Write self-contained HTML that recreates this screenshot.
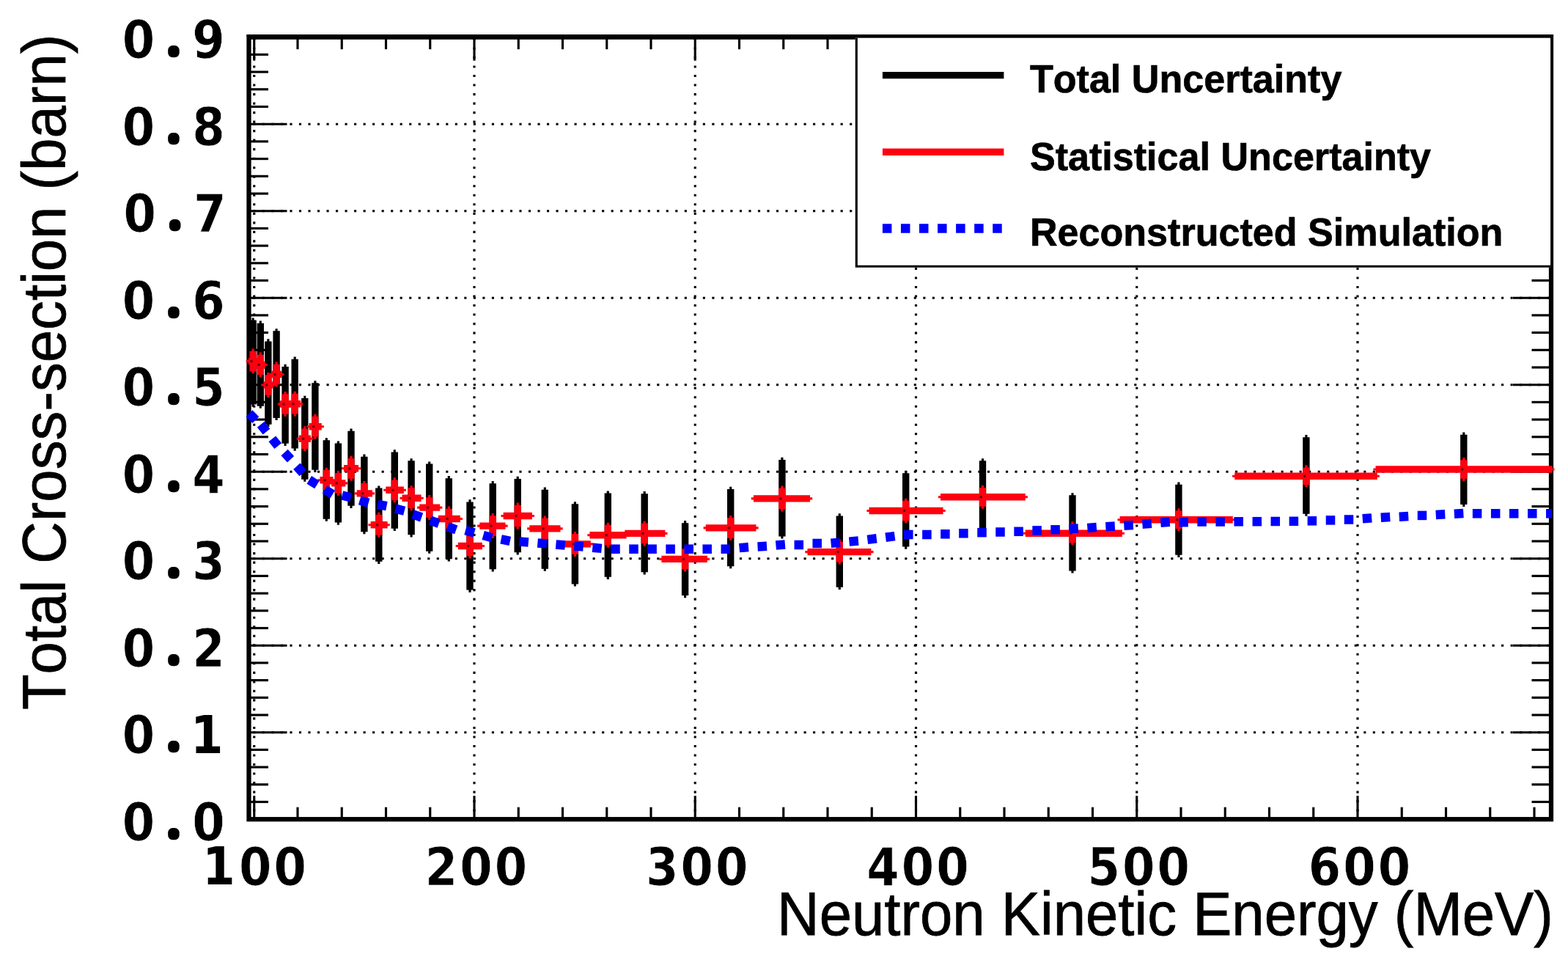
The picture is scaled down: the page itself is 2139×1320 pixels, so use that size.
<!DOCTYPE html>
<html lang="en"><head><meta charset="utf-8"><title>Total Cross-section vs Neutron Kinetic Energy</title>
<style>html,body{margin:0;padding:0;background:#fff;overflow:hidden;}svg{display:block;filter:blur(0.6px);}.tk{font-family:"DejaVu Sans Condensed","DejaVu Sans","Liberation Sans",sans-serif;font-weight:bold;font-stretch:condensed;fill:#000;}.ti{font-family:"Liberation Sans",sans-serif;fill:#000;font-kerning:none;}.lg{font-family:"Liberation Sans",sans-serif;font-weight:bold;fill:#000;font-kerning:none;}</style></head><body>
<svg width="2139" height="1320" viewBox="0 0 2139 1320">
<rect x="0" y="0" width="2139" height="1320" fill="#fff"/>
<g stroke="#000" stroke-width="3.13" stroke-dasharray="3.13 9.39" fill="none">
<line x1="339.50" y1="998.70" x2="2116.00" y2="998.70" stroke-dashoffset="6.69"/>
<line x1="339.50" y1="880.20" x2="2116.00" y2="880.20" stroke-dashoffset="6.69"/>
<line x1="339.50" y1="761.70" x2="2116.00" y2="761.70" stroke-dashoffset="6.69"/>
<line x1="339.50" y1="643.20" x2="2116.00" y2="643.20" stroke-dashoffset="6.69"/>
<line x1="339.50" y1="524.70" x2="2116.00" y2="524.70" stroke-dashoffset="6.69"/>
<line x1="339.50" y1="406.20" x2="2116.00" y2="406.20" stroke-dashoffset="6.69"/>
<line x1="339.50" y1="287.70" x2="2116.00" y2="287.70" stroke-dashoffset="6.69"/>
<line x1="339.50" y1="169.20" x2="2116.00" y2="169.20" stroke-dashoffset="6.69"/>
<line x1="346.75" y1="50.70" x2="346.75" y2="1117.20" stroke-dashoffset="11.34"/>
<line x1="647.00" y1="50.70" x2="647.00" y2="1117.20" stroke-dashoffset="11.34"/>
<line x1="948.25" y1="50.70" x2="948.25" y2="1117.20" stroke-dashoffset="11.34"/>
<line x1="1249.50" y1="50.70" x2="1249.50" y2="1117.20" stroke-dashoffset="11.34"/>
<line x1="1550.75" y1="50.70" x2="1550.75" y2="1117.20" stroke-dashoffset="11.34"/>
<line x1="1852.00" y1="50.70" x2="1852.00" y2="1117.20" stroke-dashoffset="11.34"/>
</g>
<g stroke="#000" stroke-width="3.13" fill="none">
<line x1="346.75" y1="1117.20" x2="346.75" y2="1085.20"/>
<line x1="346.75" y1="50.70" x2="346.75" y2="82.70"/>
<line x1="406.00" y1="1117.20" x2="406.00" y2="1100.70"/>
<line x1="406.00" y1="50.70" x2="406.00" y2="67.20"/>
<line x1="466.25" y1="1117.20" x2="466.25" y2="1100.70"/>
<line x1="466.25" y1="50.70" x2="466.25" y2="67.20"/>
<line x1="526.50" y1="1117.20" x2="526.50" y2="1100.70"/>
<line x1="526.50" y1="50.70" x2="526.50" y2="67.20"/>
<line x1="586.75" y1="1117.20" x2="586.75" y2="1100.70"/>
<line x1="586.75" y1="50.70" x2="586.75" y2="67.20"/>
<line x1="647.00" y1="1117.20" x2="647.00" y2="1085.20"/>
<line x1="647.00" y1="50.70" x2="647.00" y2="82.70"/>
<line x1="707.25" y1="1117.20" x2="707.25" y2="1100.70"/>
<line x1="707.25" y1="50.70" x2="707.25" y2="67.20"/>
<line x1="767.50" y1="1117.20" x2="767.50" y2="1100.70"/>
<line x1="767.50" y1="50.70" x2="767.50" y2="67.20"/>
<line x1="827.75" y1="1117.20" x2="827.75" y2="1100.70"/>
<line x1="827.75" y1="50.70" x2="827.75" y2="67.20"/>
<line x1="888.00" y1="1117.20" x2="888.00" y2="1100.70"/>
<line x1="888.00" y1="50.70" x2="888.00" y2="67.20"/>
<line x1="948.25" y1="1117.20" x2="948.25" y2="1085.20"/>
<line x1="948.25" y1="50.70" x2="948.25" y2="82.70"/>
<line x1="1008.50" y1="1117.20" x2="1008.50" y2="1100.70"/>
<line x1="1008.50" y1="50.70" x2="1008.50" y2="67.20"/>
<line x1="1068.75" y1="1117.20" x2="1068.75" y2="1100.70"/>
<line x1="1068.75" y1="50.70" x2="1068.75" y2="67.20"/>
<line x1="1129.00" y1="1117.20" x2="1129.00" y2="1100.70"/>
<line x1="1129.00" y1="50.70" x2="1129.00" y2="67.20"/>
<line x1="1189.25" y1="1117.20" x2="1189.25" y2="1100.70"/>
<line x1="1189.25" y1="50.70" x2="1189.25" y2="67.20"/>
<line x1="1249.50" y1="1117.20" x2="1249.50" y2="1085.20"/>
<line x1="1249.50" y1="50.70" x2="1249.50" y2="82.70"/>
<line x1="1309.75" y1="1117.20" x2="1309.75" y2="1100.70"/>
<line x1="1309.75" y1="50.70" x2="1309.75" y2="67.20"/>
<line x1="1370.00" y1="1117.20" x2="1370.00" y2="1100.70"/>
<line x1="1370.00" y1="50.70" x2="1370.00" y2="67.20"/>
<line x1="1430.25" y1="1117.20" x2="1430.25" y2="1100.70"/>
<line x1="1430.25" y1="50.70" x2="1430.25" y2="67.20"/>
<line x1="1490.50" y1="1117.20" x2="1490.50" y2="1100.70"/>
<line x1="1490.50" y1="50.70" x2="1490.50" y2="67.20"/>
<line x1="1550.75" y1="1117.20" x2="1550.75" y2="1085.20"/>
<line x1="1550.75" y1="50.70" x2="1550.75" y2="82.70"/>
<line x1="1611.00" y1="1117.20" x2="1611.00" y2="1100.70"/>
<line x1="1611.00" y1="50.70" x2="1611.00" y2="67.20"/>
<line x1="1671.25" y1="1117.20" x2="1671.25" y2="1100.70"/>
<line x1="1671.25" y1="50.70" x2="1671.25" y2="67.20"/>
<line x1="1731.50" y1="1117.20" x2="1731.50" y2="1100.70"/>
<line x1="1731.50" y1="50.70" x2="1731.50" y2="67.20"/>
<line x1="1791.75" y1="1117.20" x2="1791.75" y2="1100.70"/>
<line x1="1791.75" y1="50.70" x2="1791.75" y2="67.20"/>
<line x1="1852.00" y1="1117.20" x2="1852.00" y2="1085.20"/>
<line x1="1852.00" y1="50.70" x2="1852.00" y2="82.70"/>
<line x1="1912.25" y1="1117.20" x2="1912.25" y2="1100.70"/>
<line x1="1912.25" y1="50.70" x2="1912.25" y2="67.20"/>
<line x1="1972.50" y1="1117.20" x2="1972.50" y2="1100.70"/>
<line x1="1972.50" y1="50.70" x2="1972.50" y2="67.20"/>
<line x1="2032.75" y1="1117.20" x2="2032.75" y2="1100.70"/>
<line x1="2032.75" y1="50.70" x2="2032.75" y2="67.20"/>
<line x1="2093.00" y1="1117.20" x2="2093.00" y2="1100.70"/>
<line x1="2093.00" y1="50.70" x2="2093.00" y2="67.20"/>
<line x1="339.50" y1="1117.20" x2="391.50" y2="1117.20"/>
<line x1="2116.00" y1="1117.20" x2="2064.00" y2="1117.20"/>
<line x1="339.50" y1="1093.50" x2="366.00" y2="1093.50"/>
<line x1="2116.00" y1="1093.50" x2="2089.50" y2="1093.50"/>
<line x1="339.50" y1="1069.80" x2="366.00" y2="1069.80"/>
<line x1="2116.00" y1="1069.80" x2="2089.50" y2="1069.80"/>
<line x1="339.50" y1="1046.10" x2="366.00" y2="1046.10"/>
<line x1="2116.00" y1="1046.10" x2="2089.50" y2="1046.10"/>
<line x1="339.50" y1="1022.40" x2="366.00" y2="1022.40"/>
<line x1="2116.00" y1="1022.40" x2="2089.50" y2="1022.40"/>
<line x1="339.50" y1="998.70" x2="391.50" y2="998.70"/>
<line x1="2116.00" y1="998.70" x2="2064.00" y2="998.70"/>
<line x1="339.50" y1="975.00" x2="366.00" y2="975.00"/>
<line x1="2116.00" y1="975.00" x2="2089.50" y2="975.00"/>
<line x1="339.50" y1="951.30" x2="366.00" y2="951.30"/>
<line x1="2116.00" y1="951.30" x2="2089.50" y2="951.30"/>
<line x1="339.50" y1="927.60" x2="366.00" y2="927.60"/>
<line x1="2116.00" y1="927.60" x2="2089.50" y2="927.60"/>
<line x1="339.50" y1="903.90" x2="366.00" y2="903.90"/>
<line x1="2116.00" y1="903.90" x2="2089.50" y2="903.90"/>
<line x1="339.50" y1="880.20" x2="391.50" y2="880.20"/>
<line x1="2116.00" y1="880.20" x2="2064.00" y2="880.20"/>
<line x1="339.50" y1="856.50" x2="366.00" y2="856.50"/>
<line x1="2116.00" y1="856.50" x2="2089.50" y2="856.50"/>
<line x1="339.50" y1="832.80" x2="366.00" y2="832.80"/>
<line x1="2116.00" y1="832.80" x2="2089.50" y2="832.80"/>
<line x1="339.50" y1="809.10" x2="366.00" y2="809.10"/>
<line x1="2116.00" y1="809.10" x2="2089.50" y2="809.10"/>
<line x1="339.50" y1="785.40" x2="366.00" y2="785.40"/>
<line x1="2116.00" y1="785.40" x2="2089.50" y2="785.40"/>
<line x1="339.50" y1="761.70" x2="391.50" y2="761.70"/>
<line x1="2116.00" y1="761.70" x2="2064.00" y2="761.70"/>
<line x1="339.50" y1="738.00" x2="366.00" y2="738.00"/>
<line x1="2116.00" y1="738.00" x2="2089.50" y2="738.00"/>
<line x1="339.50" y1="714.30" x2="366.00" y2="714.30"/>
<line x1="2116.00" y1="714.30" x2="2089.50" y2="714.30"/>
<line x1="339.50" y1="690.60" x2="366.00" y2="690.60"/>
<line x1="2116.00" y1="690.60" x2="2089.50" y2="690.60"/>
<line x1="339.50" y1="666.90" x2="366.00" y2="666.90"/>
<line x1="2116.00" y1="666.90" x2="2089.50" y2="666.90"/>
<line x1="339.50" y1="643.20" x2="391.50" y2="643.20"/>
<line x1="2116.00" y1="643.20" x2="2064.00" y2="643.20"/>
<line x1="339.50" y1="619.50" x2="366.00" y2="619.50"/>
<line x1="2116.00" y1="619.50" x2="2089.50" y2="619.50"/>
<line x1="339.50" y1="595.80" x2="366.00" y2="595.80"/>
<line x1="2116.00" y1="595.80" x2="2089.50" y2="595.80"/>
<line x1="339.50" y1="572.10" x2="366.00" y2="572.10"/>
<line x1="2116.00" y1="572.10" x2="2089.50" y2="572.10"/>
<line x1="339.50" y1="548.40" x2="366.00" y2="548.40"/>
<line x1="2116.00" y1="548.40" x2="2089.50" y2="548.40"/>
<line x1="339.50" y1="524.70" x2="391.50" y2="524.70"/>
<line x1="2116.00" y1="524.70" x2="2064.00" y2="524.70"/>
<line x1="339.50" y1="501.00" x2="366.00" y2="501.00"/>
<line x1="2116.00" y1="501.00" x2="2089.50" y2="501.00"/>
<line x1="339.50" y1="477.30" x2="366.00" y2="477.30"/>
<line x1="2116.00" y1="477.30" x2="2089.50" y2="477.30"/>
<line x1="339.50" y1="453.60" x2="366.00" y2="453.60"/>
<line x1="2116.00" y1="453.60" x2="2089.50" y2="453.60"/>
<line x1="339.50" y1="429.90" x2="366.00" y2="429.90"/>
<line x1="2116.00" y1="429.90" x2="2089.50" y2="429.90"/>
<line x1="339.50" y1="406.20" x2="391.50" y2="406.20"/>
<line x1="2116.00" y1="406.20" x2="2064.00" y2="406.20"/>
<line x1="339.50" y1="382.50" x2="366.00" y2="382.50"/>
<line x1="2116.00" y1="382.50" x2="2089.50" y2="382.50"/>
<line x1="339.50" y1="358.80" x2="366.00" y2="358.80"/>
<line x1="2116.00" y1="358.80" x2="2089.50" y2="358.80"/>
<line x1="339.50" y1="335.10" x2="366.00" y2="335.10"/>
<line x1="2116.00" y1="335.10" x2="2089.50" y2="335.10"/>
<line x1="339.50" y1="311.40" x2="366.00" y2="311.40"/>
<line x1="2116.00" y1="311.40" x2="2089.50" y2="311.40"/>
<line x1="339.50" y1="287.70" x2="391.50" y2="287.70"/>
<line x1="2116.00" y1="287.70" x2="2064.00" y2="287.70"/>
<line x1="339.50" y1="264.00" x2="366.00" y2="264.00"/>
<line x1="2116.00" y1="264.00" x2="2089.50" y2="264.00"/>
<line x1="339.50" y1="240.30" x2="366.00" y2="240.30"/>
<line x1="2116.00" y1="240.30" x2="2089.50" y2="240.30"/>
<line x1="339.50" y1="216.60" x2="366.00" y2="216.60"/>
<line x1="2116.00" y1="216.60" x2="2089.50" y2="216.60"/>
<line x1="339.50" y1="192.90" x2="366.00" y2="192.90"/>
<line x1="2116.00" y1="192.90" x2="2089.50" y2="192.90"/>
<line x1="339.50" y1="169.20" x2="391.50" y2="169.20"/>
<line x1="2116.00" y1="169.20" x2="2064.00" y2="169.20"/>
<line x1="339.50" y1="145.50" x2="366.00" y2="145.50"/>
<line x1="2116.00" y1="145.50" x2="2089.50" y2="145.50"/>
<line x1="339.50" y1="121.80" x2="366.00" y2="121.80"/>
<line x1="2116.00" y1="121.80" x2="2089.50" y2="121.80"/>
<line x1="339.50" y1="98.10" x2="366.00" y2="98.10"/>
<line x1="2116.00" y1="98.10" x2="2089.50" y2="98.10"/>
<line x1="339.50" y1="74.40" x2="366.00" y2="74.40"/>
<line x1="2116.00" y1="74.40" x2="2089.50" y2="74.40"/>
<line x1="339.50" y1="50.70" x2="391.50" y2="50.70"/>
<line x1="2116.00" y1="50.70" x2="2064.00" y2="50.70"/>
</g>
<rect x="339.50" y="50.70" width="1776.50" height="1066.50" fill="none" stroke="#000" stroke-width="6.26"/>
<rect x="336.37" y="47.0" width="1782.76" height="3" fill="#000"/>
<g id="total">
<path d="M340.41 436.53H343.54V433.40H346.67V436.53H349.80V551.57H346.67V554.70H343.54V551.57H340.41Z" fill="#000"/>
<path d="M350.61 440.73H353.74V437.60H356.87V440.73H360.00V553.67H356.87V556.80H353.74V553.67H350.61Z" fill="#000"/>
<path d="M361.20 465.43H364.33V462.30H367.46V465.43H370.59V578.87H367.46V582.00H364.33V578.87H361.20Z" fill="#000"/>
<path d="M372.41 451.33H375.54V448.20H378.67V451.33H381.80V569.97H378.67V573.10H375.54V569.97H372.41Z" fill="#000"/>
<path d="M384.41 499.93H387.54V496.80H390.67V499.93H393.80V604.87H390.67V608.00H387.54V604.87H384.41Z" fill="#000"/>
<path d="M397.50 489.73H400.63V486.60H403.76V489.73H406.89V611.57H403.76V614.70H400.63V611.57H397.50Z" fill="#000"/>
<path d="M411.11 542.93H414.24V539.80H417.37V542.93H420.50V653.67H417.37V656.80H414.24V653.67H411.11Z" fill="#000"/>
<path d="M425.20 522.33H428.33V519.20H431.46V522.33H434.59V640.87H431.46V644.00H428.33V640.87H425.20Z" fill="#000"/>
<path d="M440.61 600.33H443.74V597.20H446.87V600.33H450.00V707.67H446.87V710.80H443.74V707.67H440.61Z" fill="#000"/>
<path d="M456.70 604.53H459.83V601.40H462.96V604.53H466.09V712.57H462.96V715.70H459.83V712.57H456.70Z" fill="#000"/>
<path d="M474.31 587.63H477.44V584.50H480.56V587.63H483.69V689.87H480.56V693.00H477.44V689.87H474.31Z" fill="#000"/>
<path d="M492.20 622.73H495.33V619.60H498.46V622.73H501.59V725.17H498.46V728.30H495.33V725.17H492.20Z" fill="#000"/>
<path d="M512.10 665.53H515.23V662.40H518.37V665.53H521.50V765.87H518.37V769.00H515.23V765.87H512.10Z" fill="#000"/>
<path d="M533.60 616.43H536.73V613.30H539.87V616.43H543.00V720.87H539.87V724.00H536.73V720.87H533.60Z" fill="#000"/>
<path d="M556.40 628.33H559.53V625.20H562.67V628.33H565.80V729.37H562.67V732.50H559.53V729.37H556.40Z" fill="#000"/>
<path d="M581.00 632.53H584.13V629.40H587.27V632.53H590.40V751.67H587.27V754.80H584.13V751.67H581.00Z" fill="#000"/>
<path d="M607.60 652.23H610.73V649.10H613.87V652.23H617.00V762.37H613.87V765.50H610.73V762.37H607.60Z" fill="#000"/>
<path d="M636.30 684.43H639.43V681.30H642.57V684.43H645.70V804.57H642.57V807.70H639.43V804.57H636.30Z" fill="#000"/>
<path d="M667.50 659.23H670.63V656.10H673.77V659.23H676.90V776.37H673.77V779.50H670.63V776.37H667.50Z" fill="#000"/>
<path d="M701.50 652.93H704.63V649.80H707.77V652.93H710.90V753.27H707.77V756.40H704.63V753.27H701.50Z" fill="#000"/>
<path d="M738.60 667.63H741.73V664.50H744.87V667.63H748.00V775.67H744.87V778.80H741.73V775.67H738.60Z" fill="#000"/>
<path d="M779.70 687.33H782.83V684.20H785.97V687.33H789.10V796.47H785.97V799.60H782.83V796.47H779.70Z" fill="#000"/>
<path d="M824.60 672.53H827.73V669.40H830.87V672.53H834.00V786.87H830.87V790.00H827.73V786.87H824.60Z" fill="#000"/>
<path d="M874.50 673.23H877.63V670.10H880.77V673.23H883.90V780.27H880.77V783.40H877.63V780.27H874.50Z" fill="#000"/>
<path d="M929.90 713.23H933.03V710.10H936.17V713.23H939.30V812.07H936.17V815.20H933.03V812.07H929.90Z" fill="#000"/>
<path d="M992.00 666.93H995.13V663.80H998.27V666.93H1001.40V772.17H998.27V775.30H995.13V772.17H992.00Z" fill="#000"/>
<path d="M1062.21 626.93H1065.34V623.80H1068.47V626.93H1071.60V731.47H1068.47V734.60H1065.34V731.47H1062.21Z" fill="#000"/>
<path d="M1140.61 703.43H1143.73V700.30H1146.87V703.43H1149.99V800.77H1146.87V803.90H1143.73V800.77H1140.61Z" fill="#000"/>
<path d="M1231.01 645.23H1234.13V642.10H1237.27V645.23H1240.39V745.57H1237.27V748.70H1234.13V745.57H1231.01Z" fill="#000"/>
<path d="M1335.81 628.33H1338.93V625.20H1342.07V628.33H1345.19V727.27H1342.07V730.40H1338.93V727.27H1335.81Z" fill="#000"/>
<path d="M1458.31 675.33H1461.43V672.20H1464.57V675.33H1467.69V778.47H1464.57V781.60H1461.43V778.47H1458.31Z" fill="#000"/>
<path d="M1603.21 660.63H1606.34V657.50H1609.47V660.63H1612.60V756.77H1609.47V759.90H1606.34V756.77H1603.21Z" fill="#000"/>
<path d="M1777.21 596.13H1780.34V593.00H1783.47V596.13H1786.60V700.67H1783.47V703.80H1780.34V700.67H1777.21Z" fill="#000"/>
<path d="M1992.11 592.63H1995.23V589.50H1998.37V592.63H2001.49V687.97H1998.37V691.10H1995.23V687.97H1992.11Z" fill="#000"/>
</g>
<g id="stat">
<path d="M338.83 487.91V491.04H335.70V494.17H338.83V497.30H351.37V494.17H354.50V491.04H351.37V487.91Z" fill="#ff0010"/>
<path d="M340.41 478.73H343.54V475.60H346.67V478.73H349.80V506.47H346.67V509.60H343.54V506.47H340.41Z" fill="#ff0010"/>
<path d="M349.03 492.81V495.94H345.90V499.06H349.03V502.19H361.77V499.06H364.90V495.94H361.77V492.81Z" fill="#ff0010"/>
<path d="M350.61 483.63H353.74V480.50H356.87V483.63H360.00V511.37H356.87V514.50H353.74V511.37H350.61Z" fill="#ff0010"/>
<path d="M359.43 520.30V523.43H356.30V526.57H359.43V529.70H372.67V526.57H375.80V523.43H372.67V520.30Z" fill="#ff0010"/>
<path d="M361.20 511.13H364.33V508.00H367.46V511.13H370.59V538.87H367.46V542.00H364.33V538.87H361.20Z" fill="#ff0010"/>
<path d="M370.33 505.81V508.94H367.20V512.07H370.33V515.20H384.27V512.07H387.40V508.94H384.27V505.81Z" fill="#ff0010"/>
<path d="M372.41 496.63H375.54V493.50H378.67V496.63H381.80V524.37H378.67V527.50H375.54V524.37H372.41Z" fill="#ff0010"/>
<path d="M381.93 546.30V549.43H378.80V552.57H381.93V555.70H396.77V552.57H399.90V549.43H396.77V546.30Z" fill="#ff0010"/>
<path d="M384.41 537.13H387.54V534.00H390.67V537.13H393.80V564.87H390.67V568.00H387.54V564.87H384.41Z" fill="#ff0010"/>
<path d="M394.43 546.00V549.13H391.30V552.27H394.43V555.40H410.17V552.27H413.30V549.13H410.17V546.00Z" fill="#ff0010"/>
<path d="M397.50 536.83H400.63V533.70H403.76V536.83H406.89V564.57H403.76V567.70H400.63V564.57H397.50Z" fill="#ff0010"/>
<path d="M407.83 593.60V596.73H404.70V599.87H407.83V603.00H423.97V599.87H427.10V596.73H423.97V593.60Z" fill="#ff0010"/>
<path d="M411.11 584.43H414.24V581.30H417.37V584.43H420.50V612.17H417.37V615.30H414.24V612.17H411.11Z" fill="#ff0010"/>
<path d="M421.63 577.00V580.13H418.50V583.27H421.63V586.40H438.77V583.27H441.90V580.13H438.77V577.00Z" fill="#ff0010"/>
<path d="M425.20 567.83H428.33V564.70H431.46V567.83H434.59V595.57H431.46V598.70H428.33V595.57H425.20Z" fill="#ff0010"/>
<path d="M436.43 650.00V653.13H433.30V656.27H436.43V659.40H454.47V656.27H457.60V653.13H454.47V650.00Z" fill="#ff0010"/>
<path d="M440.61 640.83H443.74V637.70H446.87V640.83H450.00V668.57H446.87V671.70H443.74V668.57H440.61Z" fill="#ff0010"/>
<path d="M452.13 654.20V657.33H449.00V660.47H452.13V663.60H471.37V660.47H474.50V657.33H471.37V654.20Z" fill="#ff0010"/>
<path d="M456.70 645.03H459.83V641.90H462.96V645.03H466.09V672.77H462.96V675.90H459.83V672.77H456.70Z" fill="#ff0010"/>
<path d="M469.03 634.10V637.23H465.90V640.37H469.03V643.50H489.07V640.37H492.20V637.23H489.07V634.10Z" fill="#ff0010"/>
<path d="M474.31 624.93H477.44V621.80H480.56V624.93H483.69V652.67H480.56V655.80H477.44V652.67H474.31Z" fill="#ff0010"/>
<path d="M486.73 668.20V671.33H483.60V674.47H486.73V677.60H507.97V674.47H511.10V671.33H507.97V668.20Z" fill="#ff0010"/>
<path d="M492.20 659.03H495.33V655.90H498.46V659.03H501.59V686.77H498.46V689.90H495.33V686.77H492.20Z" fill="#ff0010"/>
<path d="M505.63 711.00V714.13H502.50V717.27H505.63V720.40H528.67V717.27H531.80V714.13H528.67V711.00Z" fill="#ff0010"/>
<path d="M512.10 701.83H515.23V698.70H518.37V701.83H521.50V729.57H518.37V732.70H515.23V729.57H512.10Z" fill="#ff0010"/>
<path d="M526.33 663.60V666.73H523.20V669.87H526.33V673.00H550.87V669.87H554.00V666.73H550.87V663.60Z" fill="#ff0010"/>
<path d="M533.60 654.43H536.73V651.30H539.87V654.43H543.00V682.17H539.87V685.30H536.73V682.17H533.60Z" fill="#ff0010"/>
<path d="M548.53 674.50V677.63H545.40V680.77H548.53V683.90H574.57V680.77H577.70V677.63H574.57V674.50Z" fill="#ff0010"/>
<path d="M556.40 665.33H559.53V662.20H562.67V665.33H565.80V693.07H562.67V696.20H559.53V693.07H556.40Z" fill="#ff0010"/>
<path d="M572.23 687.40V690.53H569.10V693.67H572.23V696.80H600.17V693.67H603.30V690.53H600.17V687.40Z" fill="#ff0010"/>
<path d="M581.00 678.23H584.13V675.10H587.27V678.23H590.40V705.97H587.27V709.10H584.13V705.97H581.00Z" fill="#ff0010"/>
<path d="M597.83 702.80V705.93H594.70V709.07H597.83V712.20H627.77V709.07H630.90V705.93H627.77V702.80Z" fill="#ff0010"/>
<path d="M607.60 693.63H610.73V690.50H613.87V693.63H617.00V721.37H613.87V724.50H610.73V721.37H607.60Z" fill="#ff0010"/>
<path d="M624.83 739.80V742.93H621.70V746.07H624.83V749.20H657.87V746.07H661.00V742.93H657.87V739.80Z" fill="#ff0010"/>
<path d="M636.30 730.63H639.43V727.50H642.57V730.63H645.70V758.37H642.57V761.50H639.43V758.37H636.30Z" fill="#ff0010"/>
<path d="M654.33 712.40V715.53H651.20V718.67H654.33V721.80H689.47V718.67H692.60V715.53H689.47V712.40Z" fill="#ff0010"/>
<path d="M667.50 703.23H670.63V700.10H673.77V703.23H676.90V730.97H673.77V734.10H670.63V730.97H667.50Z" fill="#ff0010"/>
<path d="M686.63 698.80V701.93H683.50V705.07H686.63V708.20H725.87V705.07H729.00V701.93H725.87V698.80Z" fill="#ff0010"/>
<path d="M701.50 688.63H704.63V685.50H707.77V688.63H710.90V718.37H707.77V721.50H704.63V718.37H701.50Z" fill="#ff0010"/>
<path d="M722.33 716.20V719.33H719.20V722.47H722.33V725.60H764.47V722.47H767.60V719.33H764.47V716.20Z" fill="#ff0010"/>
<path d="M738.60 706.53H741.73V703.40H744.87V706.53H748.00V735.27H744.87V738.40H741.73V735.27H738.60Z" fill="#ff0010"/>
<path d="M762.13 737.20V740.33H759.00V743.47H762.13V746.60H805.87V743.47H809.00V740.33H805.87V737.20Z" fill="#ff0010"/>
<path d="M779.70 728.03H782.83V724.90H785.97V728.03H789.10V755.77H785.97V758.90H782.83V755.77H779.70Z" fill="#ff0010"/>
<path d="M804.43 725.00V728.13H801.30V731.27H804.43V734.40H854.57V731.27H857.70V728.13H854.57V725.00Z" fill="#ff0010"/>
<path d="M824.60 715.83H827.73V712.70H830.87V715.83H834.00V743.57H830.87V746.70H827.73V743.57H824.60Z" fill="#ff0010"/>
<path d="M852.23 722.70V725.83H849.10V728.97H852.23V732.10H907.37V728.97H910.50V725.83H907.37V722.70Z" fill="#ff0010"/>
<path d="M874.50 713.53H877.63V710.40H880.77V713.53H883.90V741.27H880.77V744.40H877.63V741.27H874.50Z" fill="#ff0010"/>
<path d="M902.43 757.70V760.83H899.30V763.97H902.43V767.10H964.87V763.97H968.00V760.83H964.87V757.70Z" fill="#ff0010"/>
<path d="M929.90 748.53H933.03V745.40H936.17V748.53H939.30V776.27H936.17V779.40H933.03V776.27H929.90Z" fill="#ff0010"/>
<path d="M962.73 715.20V718.33H959.60V721.47H962.73V724.60H1031.47V721.47H1034.60V718.33H1031.47V715.20Z" fill="#ff0010"/>
<path d="M992.00 706.03H995.13V702.90H998.27V706.03H1001.40V733.77H998.27V736.90H995.13V733.77H992.00Z" fill="#ff0010"/>
<path d="M1027.93 675.20V678.33H1024.80V681.47H1027.93V684.60H1105.07V681.47H1108.20V678.33H1105.07V675.20Z" fill="#ff0010"/>
<path d="M1062.21 665.53H1065.34V662.40H1068.47V665.53H1071.60V694.27H1068.47V697.40H1065.34V694.27H1062.21Z" fill="#ff0010"/>
<path d="M1101.53 747.90V751.03H1098.40V754.17H1101.53V757.30H1188.37V754.17H1191.50V751.03H1188.37V747.90Z" fill="#ff0010"/>
<path d="M1140.61 738.73H1143.73V735.60H1146.87V738.73H1149.99V766.47H1146.87V769.60H1143.73V766.47H1140.61Z" fill="#ff0010"/>
<path d="M1185.53 691.80V694.93H1182.40V698.07H1185.53V701.20H1286.57V698.07H1289.70V694.93H1286.57V691.80Z" fill="#ff0010"/>
<path d="M1231.01 682.83H1234.13V679.70H1237.27V682.83H1240.39V710.17H1237.27V713.30H1234.13V710.17H1231.01Z" fill="#ff0010"/>
<path d="M1283.03 673.10V676.23H1279.90V679.37H1283.03V682.50H1398.77V679.37H1401.90V676.23H1398.77V673.10Z" fill="#ff0010"/>
<path d="M1335.81 664.93H1338.93V661.80H1342.07V664.93H1345.19V690.67H1342.07V693.80H1338.93V690.67H1335.81Z" fill="#ff0010"/>
<path d="M1398.73 722.60V725.73H1395.60V728.87H1398.73V732.00H1530.87V728.87H1534.00V725.73H1530.87V722.60Z" fill="#ff0010"/>
<path d="M1458.31 714.43H1461.43V711.30H1464.57V714.43H1467.69V740.17H1464.57V743.30H1461.43V740.17H1458.31Z" fill="#ff0010"/>
<path d="M1527.63 704.00V707.13H1524.50V710.27H1527.63V713.40H1681.77V710.27H1684.90V707.13H1681.77V704.00Z" fill="#ff0010"/>
<path d="M1603.21 696.33H1606.34V693.20H1609.47V696.33H1612.60V721.07H1609.47V724.20H1606.34V721.07H1603.21Z" fill="#ff0010"/>
<path d="M1684.23 644.60V647.73H1681.10V650.87H1684.23V654.00H1878.77V650.87H1881.90V647.73H1878.77V644.60Z" fill="#ff0010"/>
<path d="M1777.21 637.43H1780.34V634.30H1783.47V637.43H1786.60V661.17H1783.47V664.30H1780.34V661.17H1777.21Z" fill="#ff0010"/>
<path d="M1876.53 635.30V638.43H1873.40V641.57H1876.53V644.70H2117.37V641.57H2120.50V638.43H2117.37V635.30Z" fill="#ff0010"/>
<path d="M1992.11 627.13H1995.23V624.00H1998.37V627.13H2001.49V652.87H1998.37V656.00H1995.23V652.87H1992.11Z" fill="#ff0010"/>
</g>
<g id="mk" fill="#300">
<rect x="341.34" y="491.04" width="3.13" height="3.13" fill-opacity="0.75"/>
<rect x="351.54" y="495.94" width="3.13" height="3.13" fill-opacity="0.75"/>
<rect x="362.13" y="523.43" width="3.13" height="3.13" fill-opacity="0.75"/>
<rect x="373.34" y="508.94" width="3.13" height="3.13" fill-opacity="0.75"/>
<rect x="385.34" y="549.43" width="3.13" height="3.13" fill-opacity="0.75"/>
<rect x="398.44" y="549.13" width="3.13" height="3.13" fill-opacity="0.75"/>
<rect x="412.04" y="596.73" width="3.13" height="3.13" fill-opacity="0.75"/>
<rect x="426.13" y="580.13" width="3.13" height="3.13" fill-opacity="0.75"/>
<rect x="441.54" y="653.13" width="3.13" height="3.13" fill-opacity="0.75"/>
<rect x="457.63" y="657.33" width="3.13" height="3.13" fill-opacity="0.75"/>
<rect x="475.24" y="637.23" width="3.13" height="3.13" fill-opacity="0.75"/>
<rect x="493.13" y="671.33" width="3.13" height="3.13" fill-opacity="0.75"/>
<rect x="513.03" y="714.13" width="3.13" height="3.13" fill-opacity="0.75"/>
<rect x="534.53" y="666.73" width="3.13" height="3.13" fill-opacity="0.75"/>
<rect x="557.33" y="677.63" width="3.13" height="3.13" fill-opacity="0.75"/>
<rect x="581.93" y="690.53" width="3.13" height="3.13" fill-opacity="0.75"/>
<rect x="608.53" y="705.93" width="3.13" height="3.13" fill-opacity="0.75"/>
<rect x="637.23" y="742.93" width="3.13" height="3.13" fill-opacity="0.75"/>
<rect x="668.43" y="715.53" width="3.13" height="3.13" fill-opacity="0.75"/>
<rect x="702.43" y="701.93" width="3.13" height="3.13" fill-opacity="0.75"/>
<rect x="739.53" y="719.33" width="3.13" height="3.13" fill-opacity="0.75"/>
<rect x="780.63" y="740.33" width="3.13" height="3.13" fill-opacity="0.75"/>
<rect x="825.53" y="728.13" width="3.13" height="3.13" fill-opacity="0.75"/>
<rect x="875.43" y="725.83" width="3.13" height="3.13" fill-opacity="0.75"/>
<rect x="930.83" y="760.83" width="3.13" height="3.13" fill-opacity="0.75"/>
<rect x="992.93" y="718.33" width="3.13" height="3.13" fill-opacity="0.75"/>
<rect x="1063.13" y="678.33" width="3.13" height="3.13" fill-opacity="0.75"/>
<rect x="1141.53" y="751.03" width="3.13" height="3.13" fill-opacity="0.75"/>
<rect x="1231.93" y="694.93" width="3.13" height="3.13" fill-opacity="0.75"/>
<rect x="1336.73" y="676.23" width="3.13" height="3.13" fill-opacity="0.75"/>
<rect x="1459.23" y="725.73" width="3.13" height="3.13" fill-opacity="0.75"/>
<rect x="1604.13" y="707.13" width="3.13" height="3.13" fill-opacity="0.75"/>
<rect x="1778.13" y="647.73" width="3.13" height="3.13" fill-opacity="0.75"/>
<rect x="1993.03" y="638.43" width="3.13" height="3.13" fill-opacity="0.75"/>
</g>
<clipPath id="cl"><rect x="330" y="40" width="1787" height="1085"/></clipPath>
<g id="sim" fill="#0000ff" clip-path="url(#cl)">
<rect x="-6.26" y="-6.26" width="12.52" height="12.52" transform="translate(344.4 568.2) rotate(45.0)"/>
<rect x="-6.26" y="-6.26" width="12.52" height="12.52" transform="translate(359.6 583.8) rotate(51.1)"/>
<rect x="-6.26" y="-6.26" width="12.52" height="12.52" transform="translate(375.3 603.3) rotate(51.1)"/>
<rect x="-6.26" y="-6.26" width="12.52" height="12.52" transform="translate(392.3 621.7) rotate(47.3)"/>
<rect x="-6.26" y="-6.26" width="12.52" height="12.52" transform="translate(409.0 640.4) rotate(48.2)"/>
<rect x="-6.26" y="-6.26" width="12.52" height="12.52" transform="translate(427.1 657.7) rotate(31.5)"/>
<rect x="-6.26" y="-6.26" width="12.52" height="12.52" transform="translate(448.4 670.8) rotate(31.5)"/>
<rect x="-6.26" y="-6.26" width="12.52" height="12.52" transform="translate(472.7 677.0) rotate(14.4)"/>
<rect x="-6.26" y="-6.26" width="12.52" height="12.52" transform="translate(496.7 684.1) rotate(16.3)"/>
<rect x="-6.26" y="-6.26" width="12.52" height="12.52" transform="translate(521.3 689.0) rotate(11.3)"/>
<rect x="-6.26" y="-6.26" width="12.52" height="12.52" transform="translate(545.6 695.2) rotate(14.4)"/>
<rect x="-6.26" y="-6.26" width="12.52" height="12.52" transform="translate(569.2 703.4) rotate(19.4)"/>
<rect x="-6.26" y="-6.26" width="12.52" height="12.52" transform="translate(592.9 711.7) rotate(19.9)"/>
<rect x="-6.26" y="-6.26" width="12.52" height="12.52" transform="translate(616.4 720.2) rotate(19.9)"/>
<rect x="-6.26" y="-6.26" width="12.52" height="12.52" transform="translate(641.0 724.8) rotate(15.6)"/>
<rect x="-6.26" y="-6.26" width="12.52" height="12.52" transform="translate(665.2 731.6) rotate(15.6)"/>
<rect x="-6.26" y="-6.26" width="12.52" height="12.52" transform="translate(689.7 736.6) rotate(11.5)"/>
<rect x="-6.26" y="-6.26" width="12.52" height="12.52" transform="translate(714.6 738.9) rotate(4.7)"/>
<rect x="-6.26" y="-6.26" width="12.52" height="12.52" transform="translate(739.6 740.9) rotate(4.7)"/>
<rect x="-6.26" y="-6.26" width="12.52" height="12.52" transform="translate(764.6 743.0) rotate(4.8)"/>
<rect x="-6.26" y="-6.26" width="12.52" height="12.52" transform="translate(789.5 745.0) rotate(4.6)"/>
<rect x="-6.26" y="-6.26" width="12.52" height="12.52" transform="translate(814.5 747.3) rotate(5.3)"/>
<rect x="-6.26" y="-6.26" width="12.52" height="12.52" transform="translate(839.5 748.7) rotate(0.0)"/>
<rect x="-6.26" y="-6.26" width="12.52" height="12.52" transform="translate(864.5 748.7) rotate(0.0)"/>
<rect x="-6.26" y="-6.26" width="12.52" height="12.52" transform="translate(889.6 748.7) rotate(0.0)"/>
<rect x="-6.26" y="-6.26" width="12.52" height="12.52" transform="translate(914.6 748.7) rotate(0.0)"/>
<rect x="-6.26" y="-6.26" width="12.52" height="12.52" transform="translate(939.7 748.7) rotate(0.0)"/>
<rect x="-6.26" y="-6.26" width="12.52" height="12.52" transform="translate(964.7 748.7) rotate(0.0)"/>
<rect x="-6.26" y="-6.26" width="12.52" height="12.52" transform="translate(989.8 748.7) rotate(0.0)"/>
<rect x="-6.26" y="-6.26" width="12.52" height="12.52" transform="translate(1014.8 746.6) rotate(-4.8)"/>
<rect x="-6.26" y="-6.26" width="12.52" height="12.52" transform="translate(1039.8 745.2) rotate(-3.2)"/>
<rect x="-6.26" y="-6.26" width="12.52" height="12.52" transform="translate(1064.7 743.0) rotate(-5.0)"/>
<rect x="-6.26" y="-6.26" width="12.52" height="12.52" transform="translate(1089.8 743.0) rotate(0.0)"/>
<rect x="-6.26" y="-6.26" width="12.52" height="12.52" transform="translate(1114.7 741.0) rotate(0.0)"/>
<rect x="-6.26" y="-6.26" width="12.52" height="12.52" transform="translate(1139.8 740.2) rotate(-4.8)"/>
<rect x="-6.26" y="-6.26" width="12.52" height="12.52" transform="translate(1164.7 738.1) rotate(-4.8)"/>
<rect x="-6.26" y="-6.26" width="12.52" height="12.52" transform="translate(1189.6 735.1) rotate(-7.1)"/>
<rect x="-6.26" y="-6.26" width="12.52" height="12.52" transform="translate(1214.4 731.9) rotate(-7.3)"/>
<rect x="-6.26" y="-6.26" width="12.52" height="12.52" transform="translate(1239.3 729.0) rotate(0.0)"/>
<rect x="-6.26" y="-6.26" width="12.52" height="12.52" transform="translate(1264.4 729.0) rotate(0.0)"/>
<rect x="-6.26" y="-6.26" width="12.52" height="12.52" transform="translate(1289.4 728.3) rotate(0.0)"/>
<rect x="-6.26" y="-6.26" width="12.52" height="12.52" transform="translate(1314.4 727.3) rotate(0.0)"/>
<rect x="-6.26" y="-6.26" width="12.52" height="12.52" transform="translate(1339.5 726.2) rotate(0.0)"/>
<rect x="-6.26" y="-6.26" width="12.52" height="12.52" transform="translate(1364.5 725.5) rotate(0.0)"/>
<rect x="-6.26" y="-6.26" width="12.52" height="12.52" transform="translate(1389.6 724.8) rotate(0.0)"/>
<rect x="-6.26" y="-6.26" width="12.52" height="12.52" transform="translate(1414.6 723.4) rotate(0.0)"/>
<rect x="-6.26" y="-6.26" width="12.52" height="12.52" transform="translate(1439.6 722.3) rotate(0.0)"/>
<rect x="-6.26" y="-6.26" width="12.52" height="12.52" transform="translate(1464.6 720.9) rotate(-3.2)"/>
<rect x="-6.26" y="-6.26" width="12.52" height="12.52" transform="translate(1489.6 719.5) rotate(-3.8)"/>
<rect x="-6.26" y="-6.26" width="12.52" height="12.52" transform="translate(1514.6 717.8) rotate(-3.2)"/>
<rect x="-6.26" y="-6.26" width="12.52" height="12.52" transform="translate(1539.6 716.4) rotate(-3.2)"/>
<rect x="-6.26" y="-6.26" width="12.52" height="12.52" transform="translate(1564.6 714.3) rotate(-4.8)"/>
<rect x="-6.26" y="-6.26" width="12.52" height="12.52" transform="translate(1589.5 712.2) rotate(-4.9)"/>
<rect x="-6.26" y="-6.26" width="12.52" height="12.52" transform="translate(1614.6 712.2) rotate(0.0)"/>
<rect x="-6.26" y="-6.26" width="12.52" height="12.52" transform="translate(1639.6 711.5) rotate(0.0)"/>
<rect x="-6.26" y="-6.26" width="12.52" height="12.52" transform="translate(1664.7 711.5) rotate(0.0)"/>
<rect x="-6.26" y="-6.26" width="12.52" height="12.52" transform="translate(1689.7 711.3) rotate(0.0)"/>
<rect x="-6.26" y="-6.26" width="12.52" height="12.52" transform="translate(1714.8 711.2) rotate(0.0)"/>
<rect x="-6.26" y="-6.26" width="12.52" height="12.52" transform="translate(1739.8 711.0) rotate(0.0)"/>
<rect x="-6.26" y="-6.26" width="12.52" height="12.52" transform="translate(1764.9 710.8) rotate(0.0)"/>
<rect x="-6.26" y="-6.26" width="12.52" height="12.52" transform="translate(1789.9 710.3) rotate(0.0)"/>
<rect x="-6.26" y="-6.26" width="12.52" height="12.52" transform="translate(1815.0 709.4) rotate(0.0)"/>
<rect x="-6.26" y="-6.26" width="12.52" height="12.52" transform="translate(1840.0 708.5) rotate(0.0)"/>
<rect x="-6.26" y="-6.26" width="12.52" height="12.52" transform="translate(1865.0 706.8) rotate(-3.9)"/>
<rect x="-6.26" y="-6.26" width="12.52" height="12.52" transform="translate(1890.0 705.4) rotate(-3.2)"/>
<rect x="-6.26" y="-6.26" width="12.52" height="12.52" transform="translate(1915.0 704.3) rotate(-3.2)"/>
<rect x="-6.26" y="-6.26" width="12.52" height="12.52" transform="translate(1940.0 702.9) rotate(0.0)"/>
<rect x="-6.26" y="-6.26" width="12.52" height="12.52" transform="translate(1965.0 701.7) rotate(-3.1)"/>
<rect x="-6.26" y="-6.26" width="12.52" height="12.52" transform="translate(1990.1 700.3) rotate(-3.1)"/>
<rect x="-6.26" y="-6.26" width="12.52" height="12.52" transform="translate(2015.1 700.3) rotate(0.0)"/>
<rect x="-6.26" y="-6.26" width="12.52" height="12.52" transform="translate(2040.2 700.3) rotate(0.0)"/>
<rect x="-6.26" y="-6.26" width="12.52" height="12.52" transform="translate(2065.2 700.3) rotate(0.0)"/>
<rect x="-6.26" y="-6.26" width="12.52" height="12.52" transform="translate(2090.3 700.3) rotate(0.0)"/>
<rect x="-6.26" y="-6.26" width="12.52" height="12.52" transform="translate(2115.3 700.3) rotate(0.0)"/>
</g>
<rect x="1166.70" y="51.70" width="948.40" height="313.10" fill="#fff"/>
<path d="M1168.3 51.70V363.3H2115.10" fill="none" stroke="#000" stroke-width="3.13"/>
<line x1="1203.9" y1="102.6" x2="1369.4" y2="102.6" stroke="#000" stroke-width="9.39"/>
<line x1="1203.9" y1="207.3" x2="1369.4" y2="207.3" stroke="#ff0010" stroke-width="9.39"/>
<line x1="1203.9" y1="311.5" x2="1369.4" y2="311.5" stroke="#0000ff" stroke-width="12.52" stroke-dasharray="12.52 12.53"/>
<text class="lg" transform="translate(1404.9 125.6) scale(0.958 1)" font-size="54.4" stroke="#000" stroke-width="0.7">Total Uncertainty</text>
<text class="lg" transform="translate(1404.9 232.3) scale(0.958 1)" font-size="54.4" stroke="#000" stroke-width="0.7">Statistical Uncertainty</text>
<text class="lg" transform="translate(1404.9 334.6) scale(0.958 1)" font-size="54.4" stroke="#000" stroke-width="0.7">Reconstructed Simulation</text>
<g id="ylabels">
<text class="tk" font-size="71" y="1145.50" stroke="#fff" stroke-width="0.6"><tspan x="166.79" y="1145.50">0</tspan><tspan x="233.40" y="1138.80" font-size="20" stroke="#000" stroke-width="12.4" stroke-linejoin="round">.</tspan><tspan x="262.19" y="1145.50">0</tspan></text>
<text class="tk" font-size="71" y="1027.00" stroke="#fff" stroke-width="0.6"><tspan x="166.79" y="1027.00">0</tspan><tspan x="233.40" y="1020.30" font-size="20" stroke="#000" stroke-width="12.4" stroke-linejoin="round">.</tspan><tspan x="260.02" y="1026.60" stroke="none">1</tspan></text>
<text class="tk" font-size="71" y="908.50" stroke="#fff" stroke-width="0.6"><tspan x="166.79" y="908.50">0</tspan><tspan x="233.40" y="901.80" font-size="20" stroke="#000" stroke-width="12.4" stroke-linejoin="round">.</tspan><tspan x="262.19" y="908.50">2</tspan></text>
<text class="tk" font-size="71" y="790.00" stroke="#fff" stroke-width="0.6"><tspan x="166.79" y="790.00">0</tspan><tspan x="233.40" y="783.30" font-size="20" stroke="#000" stroke-width="12.4" stroke-linejoin="round">.</tspan><tspan x="262.19" y="790.00">3</tspan></text>
<text class="tk" font-size="71" y="671.50" stroke="#fff" stroke-width="0.6"><tspan x="166.79" y="671.50">0</tspan><tspan x="233.40" y="664.80" font-size="20" stroke="#000" stroke-width="12.4" stroke-linejoin="round">.</tspan><tspan x="262.19" y="671.50">4</tspan></text>
<text class="tk" font-size="71" y="553.00" stroke="#fff" stroke-width="0.6"><tspan x="166.79" y="553.00">0</tspan><tspan x="233.40" y="546.30" font-size="20" stroke="#000" stroke-width="12.4" stroke-linejoin="round">.</tspan><tspan x="262.19" y="553.00">5</tspan></text>
<text class="tk" font-size="71" y="434.50" stroke="#fff" stroke-width="0.6"><tspan x="166.79" y="434.50">0</tspan><tspan x="233.40" y="427.80" font-size="20" stroke="#000" stroke-width="12.4" stroke-linejoin="round">.</tspan><tspan x="262.19" y="434.50">6</tspan></text>
<text class="tk" font-size="71" y="316.00" stroke="#fff" stroke-width="0.6"><tspan x="168.59" y="316.00">0</tspan><tspan x="235.20" y="309.30" font-size="20" stroke="#000" stroke-width="12.4" stroke-linejoin="round">.</tspan><tspan x="263.99" y="316.00">7</tspan></text>
<text class="tk" font-size="71" y="197.50" stroke="#fff" stroke-width="0.6"><tspan x="166.79" y="197.50">0</tspan><tspan x="233.40" y="190.80" font-size="20" stroke="#000" stroke-width="12.4" stroke-linejoin="round">.</tspan><tspan x="262.19" y="197.50">8</tspan></text>
<text class="tk" font-size="71" y="79.00" stroke="#fff" stroke-width="0.6"><tspan x="166.79" y="79.00">0</tspan><tspan x="233.40" y="72.30" font-size="20" stroke="#000" stroke-width="12.4" stroke-linejoin="round">.</tspan><tspan x="262.19" y="79.00">9</tspan></text>
</g>
<g id="xlabels">
<text class="tk" font-size="71" y="1206.60" stroke="#fff" stroke-width="0.6"><tspan x="276.37" y="1206.20" stroke="none">1</tspan><tspan x="326.04" y="1206.60">0</tspan><tspan x="373.54" y="1206.60">0</tspan></text>
<text class="tk" font-size="71" y="1206.60" stroke="#fff" stroke-width="0.6"><tspan x="579.79" y="1206.60">2</tspan><tspan x="627.29" y="1206.60">0</tspan><tspan x="674.79" y="1206.60">0</tspan></text>
<text class="tk" font-size="71" y="1206.60" stroke="#fff" stroke-width="0.6"><tspan x="881.04" y="1206.60">3</tspan><tspan x="928.54" y="1206.60">0</tspan><tspan x="976.04" y="1206.60">0</tspan></text>
<text class="tk" font-size="71" y="1206.60" stroke="#fff" stroke-width="0.6"><tspan x="1182.29" y="1206.60">4</tspan><tspan x="1229.79" y="1206.60">0</tspan><tspan x="1277.29" y="1206.60">0</tspan></text>
<text class="tk" font-size="71" y="1206.60" stroke="#fff" stroke-width="0.6"><tspan x="1483.54" y="1206.60">5</tspan><tspan x="1531.04" y="1206.60">0</tspan><tspan x="1578.54" y="1206.60">0</tspan></text>
<text class="tk" font-size="71" y="1206.60" stroke="#fff" stroke-width="0.6"><tspan x="1784.79" y="1206.60">6</tspan><tspan x="1832.29" y="1206.60">0</tspan><tspan x="1879.79" y="1206.60">0</tspan></text>
</g>
<text class="ti" transform="translate(1060.1 1274.7) scale(0.958 1)" font-size="83.2" stroke="#000" stroke-width="0.8">Neutron Kinetic Energy (MeV)</text>
<text class="ti" transform="translate(88.9 968.1) rotate(-90) scale(0.958 1)" font-size="83.2" stroke="#000" stroke-width="0.8">Total Cross-section (barn)</text>
</svg></body></html>
